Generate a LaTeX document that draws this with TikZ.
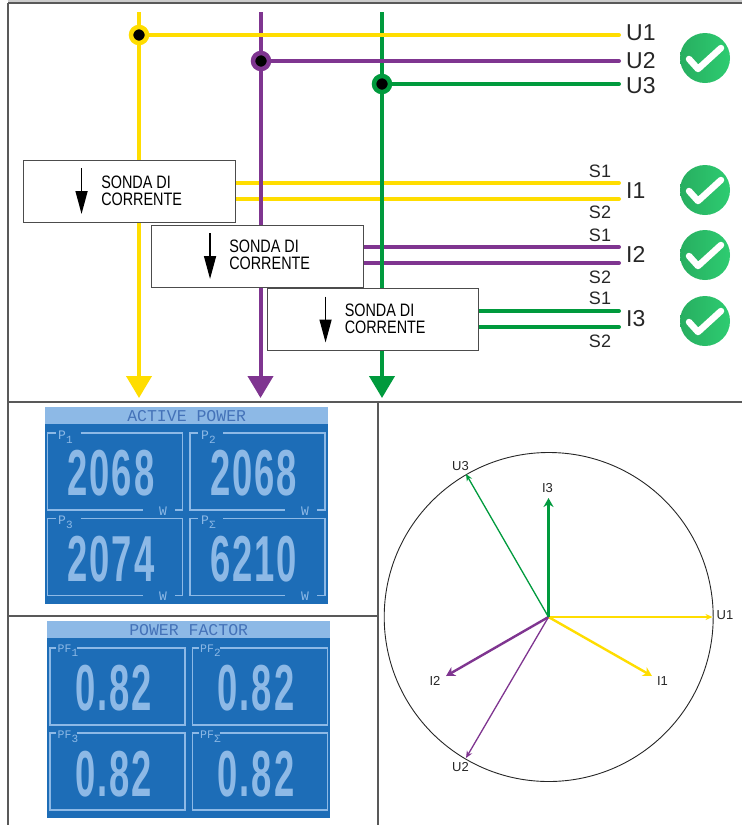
\documentclass[tikz,border=0pt]{standalone}
\usepackage{fontspec}
\setmainfont{Liberation Sans}
\newfontfamily\probefont[FakeStretch=0.8]{Liberation Sans}
\newfontfamily\bigfont[FakeStretch=0.56,LetterSpace=3]{Liberation Sans Bold}
\setmonofont{Liberation Mono}
\usetikzlibrary{shapes.geometric, positioning, fit, arrows.meta}
\definecolor{phaseyellow}{HTML}{FFDD00}
\definecolor{phasepurple}{HTML}{7F3590}
\definecolor{phasegreen}{HTML}{009A3D}
\definecolor{dispblue}{HTML}{1D6DB7}
\definecolor{displight}{HTML}{8DB9E6}
\definecolor{disptitle}{HTML}{4472B8}
\definecolor{okleft}{HTML}{27AE60}
\definecolor{okright}{HTML}{2ECC71}
\newcommand{\framecolor}{black!65}
\tikzstyle{rule} = [draw=\framecolor, line width=1.2pt]
\tikzstyle{wireend} = [line width=4pt, line cap=round]
\tikzstyle{phase} = [line width=4pt, -{Triangle[width=25pt,length=22pt]}]
\tikzstyle{junction} = [circle, inner sep=0pt, minimum size=16pt,
line width=4.5pt, fill=black]
\tikzstyle{probebox} = [rectangle, minimum width=211.5pt, minimum height=62pt,
draw=black!70, line width=1pt, fill=white]
\tikzstyle{probetext} = [anchor=west, inner sep=0pt, align=left,
font=\probefont\fontsize{18}{17}\selectfont]
\tikzstyle{probearrow} = [line width=1.5pt, black,
-{Triangle[width=12pt,length=23pt]}]
\tikzstyle{biglabel} = [anchor=west, inner sep=0pt, text=black!85,
font=\fontsize{23}{23}\selectfont]
\tikzstyle{sidelabel} = [inner sep=0pt, text=black!85,
font=\fontsize{18}{18}\selectfont]
\tikzstyle{okmark} = [circle, inner sep=0pt, minimum size=50pt,
left color=okleft, right color=okright]
\tikzstyle{okline} = [white, line width=6.5pt, line cap=round, line join=round]
\tikzstyle{panel} = [rectangle, anchor=north west, inner sep=0pt,
minimum width=283pt, minimum height=197pt, fill=dispblue]
\tikzstyle{paneltitle} = [rectangle, anchor=north west, inner sep=0pt,
minimum width=283pt, minimum height=17pt, fill=displight, text=disptitle,
font=\ttfamily\fontsize{16.5}{16.5}\selectfont]
\tikzstyle{dispframe} = [displight, line width=1.2pt]
\tikzstyle{dispvalue} = [inner sep=0pt, text=displight, xshift=0.5pt,
font=\bigfont\fontsize{65}{65}\selectfont]
\tikzstyle{dispname} = [anchor=base west, inner sep=0pt, text=displight,
font=\ttfamily\fontsize{13}{13}\selectfont]
\tikzstyle{dispnamepf} = [anchor=base west, inner sep=0pt, text=displight,
font=\ttfamily\fontsize{11.5}{11.5}\selectfont]
\tikzstyle{dispunit} = [inner sep=0pt, text=displight,
font=\ttfamily\fontsize{13}{13}\selectfont]
\tikzstyle{vecthin} = [line width=1.3pt, -{Stealth[width=6pt,length=7pt]}]
\tikzstyle{vecthick} = [line width=2.4pt, -{Stealth[width=10pt,length=9pt]}]
\tikzstyle{veclabel} = [inner sep=0pt, text=black!85,
font=\fontsize{13}{13}\selectfont]
\newcommand{\drawtick}[1]{\draw [okline] (#1) ++(-16,1) -- ++(9,10) -- ++(23,-21);}
\newcommand{\openframe}[2]{\draw [dispframe] (#1+33,#2) -- (#1+135,#2) -- (#1+135,#2+77)
  -- (#1+127,#2+77) (#1+95,#2+77) -- (#1,#2+77) -- (#1,#2) -- (#1+8,#2);}
\newcommand{\gapframe}[2]{\draw [dispframe] (#1+27,#2) -- (#1+135,#2) -- (#1+135,#2+77)
  -- (#1,#2+77) -- (#1,#2) -- (#1+6,#2);}
\newcommand{\dispsub}[1]{{\fontsize{11}{11}\selectfont\raisebox{-4pt}{#1}}}

\begin{document}
\begin{tikzpicture}[x=1pt,y=-1pt]
\useasboundingbox (0,0) rectangle (742,825);

%-----------page rules
\coordinate (topleft) at (8,3);
\coordinate (topright) at (742,3);
\coordinate (bottomleft) at (8,825);
\coordinate (midleft) at (8,402);
\coordinate (midright) at (742,402);
\coordinate (midcentre) at (378,402);
\coordinate (bottomcentre) at (378,825);
\coordinate (lowleft) at (8,616);
\coordinate (lowcentre) at (378,616);
\fill [black!20] (8,0) rectangle (topright);
\draw [rule] (topleft) -- (topright);
\draw [rule] (topleft) -- (bottomleft);
\draw [rule] (midleft) -- (midright);
\draw [rule] (midcentre) -- (bottomcentre);
\draw [rule] (lowleft) -- (lowcentre);

%-----------labels at the right
\node (labelU1) [biglabel] at (626,32.5) {U1};
\node (labelU2) [biglabel] at (626,61) {U2};
\node (labelU3) [biglabel] at (626,86) {U3};
\node (labelI1) [biglabel] at (626,191) {I1};
\node (labelI2) [biglabel] at (626,254) {I2};
\node (labelI3) [biglabel] at (626,319) {I3};

%-----------probe wires
\coordinate (wire1a) at (619,183);
\coordinate (wire1b) at (619,199);
\coordinate (wire2a) at (619,247);
\coordinate (wire2b) at (619,263);
\coordinate (wire3a) at (619,311);
\coordinate (wire3b) at (619,327);
\draw [wireend, phaseyellow] (235,183) -- (wire1a);
\draw [wireend, phaseyellow] (235,199) -- (wire1b);
\draw [wireend, phasepurple] (363,247) -- (wire2a);
\draw [wireend, phasepurple] (363,263) -- (wire2b);
\draw [wireend, phasegreen] (479,311) -- (wire3a);
\draw [wireend, phasegreen] (479,327) -- (wire3b);

%-----------the three phases
\coordinate (top1) at (139,12);
\coordinate (top2) at (260.5,12);
\coordinate (top3) at (382,12);
\coordinate (end1) at (139,398);
\coordinate (end2) at (260.5,398);
\coordinate (end3) at (382,398);
\draw [phase, phaseyellow] (top1) -- (end1);
\draw [phase, phasepurple] (top2) -- (end2);
\draw [phase, phasegreen] (top3) -- (end3);

%-----------voltage junctions
\node (dotU1) [junction, draw=phaseyellow] at (139,35) {};
\node (dotU2) [junction, draw=phasepurple] at (261,61) {};
\node (dotU3) [junction, draw=phasegreen] at (382,84) {};
\draw [wireend, phaseyellow] (dotU1) -- (619,35);
\draw [wireend, phasepurple] (dotU2) -- (619,61);
\draw [wireend, phasegreen] (dotU3) -- (619,84);

%-----------current probes
\node (probe1) [probebox] at (129.3,191) {};
\node (probe2) [probebox] at (257.3,256) {};
\node (probe3) [probebox] at (372.8,319.5) {};
\node (probetext1) [probetext, at={(probe1.west)}, xshift=78pt, yshift=0.5pt] {SONDA DI\\CORRENTE};
\node (probetext2) [probetext, at={(probe2.west)}, xshift=78pt, yshift=1pt] {SONDA DI\\CORRENTE};
\node (probetext3) [probetext, at={(probe3.west)}, xshift=78pt, yshift=1pt] {SONDA DI\\CORRENTE};
\coordinate (arrowtop1) at ([xshift=58.5pt,yshift=23pt]probe1.west);
\coordinate (arrowend1) at ([xshift=58.5pt,yshift=-23pt]probe1.west);
\coordinate (arrowtop2) at ([xshift=59pt,yshift=23pt]probe2.west);
\coordinate (arrowend2) at ([xshift=59pt,yshift=-23pt]probe2.west);
\coordinate (arrowtop3) at ([xshift=59pt,yshift=23pt]probe3.west);
\coordinate (arrowend3) at ([xshift=59pt,yshift=-23pt]probe3.west);
\draw [probearrow] (arrowtop1) -- (arrowend1);
\draw [probearrow] (arrowtop2) -- (arrowend2);
\draw [probearrow] (arrowtop3) -- (arrowend3);

%-----------S1 and S2
\node (s1a) [sidelabel] at (600,171) {S1};
\node (s2a) [sidelabel] at (600,212) {S2};
\node (s1b) [sidelabel] at (600,235) {S1};
\node (s2b) [sidelabel] at (600,277) {S2};
\node (s1c) [sidelabel] at (600,298) {S1};
\node (s2c) [sidelabel] at (600,341) {S2};

%-----------green marks
\node (ok1) [okmark] at (705,58) {};
\node (ok2) [okmark] at (705,190) {};
\node (ok3) [okmark] at (705,255) {};
\node (ok4) [okmark] at (705,321) {};
\drawtick{ok1}
\drawtick{ok2}
\drawtick{ok3}
\drawtick{ok4}

%-----------active power display
\node (power) [panel] at (45,407) {};
\node (powertitle) [paneltitle] at (45,407) {ACTIVE POWER};
\openframe{47.5}{433}
\openframe{190}{433}
\openframe{47.5}{518.5}
\openframe{190}{518.5}
\node (nameP1) [dispname] at (58,439.5) {P\dispsub{1}};
\node (nameP2) [dispname] at (201,439.5) {P\dispsub{2}};
\node (nameP3) [dispname] at (58,524.5) {P\dispsub{3}};
\node (namePS) [dispname] at (201,524.5) {P\dispsub{Σ}};
\node (valueP1) [dispvalue] at (110.5,473.5) {2068};
\node (valueP2) [dispvalue] at (253,473.5) {2068};
\node (valueP3) [dispvalue] at (110.5,559.5) {2074};
\node (valuePS) [dispvalue] at (253,559.5) {6210};
\node (unitP1) [dispunit] at (163,511) {W};
\node (unitP2) [dispunit] at (305,511) {W};
\node (unitP3) [dispunit] at (163,596) {W};
\node (unitPS) [dispunit] at (305,596) {W};

%-----------power factor display
\node (factor) [panel] at (47,621) {};
\node (factortitle) [paneltitle] at (47,621) {POWER FACTOR};
\gapframe{50}{648}
\gapframe{192.5}{648}
\gapframe{50}{733}
\gapframe{192.5}{733}
\node (namePF1) [dispnamepf] at (57.5,652.7) {PF\dispsub{1}};
\node (namePF2) [dispnamepf] at (200,652.7) {PF\dispsub{2}};
\node (namePF3) [dispnamepf] at (57.5,738) {PF\dispsub{3}};
\node (namePFS) [dispnamepf] at (200,738) {PF\dispsub{Σ}};
\node (valuePF1) [dispvalue] at (113,688) {0.82};
\node (valuePF2) [dispvalue] at (255.5,688) {0.82};
\node (valuePF3) [dispvalue] at (113,774) {0.82};
\node (valuePFS) [dispvalue] at (255.5,774) {0.82};

%-----------phasor diagram
\node (circ) [circle, draw=black!85, line width=0.9pt, inner sep=0pt,
  minimum size=329pt] at (548.7,617) {};
\coordinate (origin) at (548.5,617);
\coordinate (tipU1) at (712.5,617);
\coordinate (tipU2) at (466,758);
\coordinate (tipU3) at (466,474);
\coordinate (tipI1) at (652,676);
\coordinate (tipI2) at (446,676);
\coordinate (tipI3) at (548.5,498);
\draw [vecthin, phaseyellow] (origin) -- (tipU1);
\draw [vecthin, phasepurple] (origin) -- (tipU2);
\draw [vecthin, phasegreen] (origin) -- (tipU3);
\draw [vecthick, phaseyellow] (origin) -- (tipI1);
\draw [vecthick, phasepurple] (origin) -- (tipI2);
\draw [vecthick, phasegreen] (origin) -- (tipI3);
\node (vecU1) [veclabel] at (725,615) {U1};
\node (vecU2) [veclabel] at (460.5,767) {U2};
\node (vecU3) [veclabel] at (460.5,466) {U3};
\node (vecI1) [veclabel] at (662.5,681) {I1};
\node (vecI2) [veclabel] at (435,681) {I2};
\node (vecI3) [veclabel] at (547.5,488) {I3};

\end{tikzpicture}
\end{document}
